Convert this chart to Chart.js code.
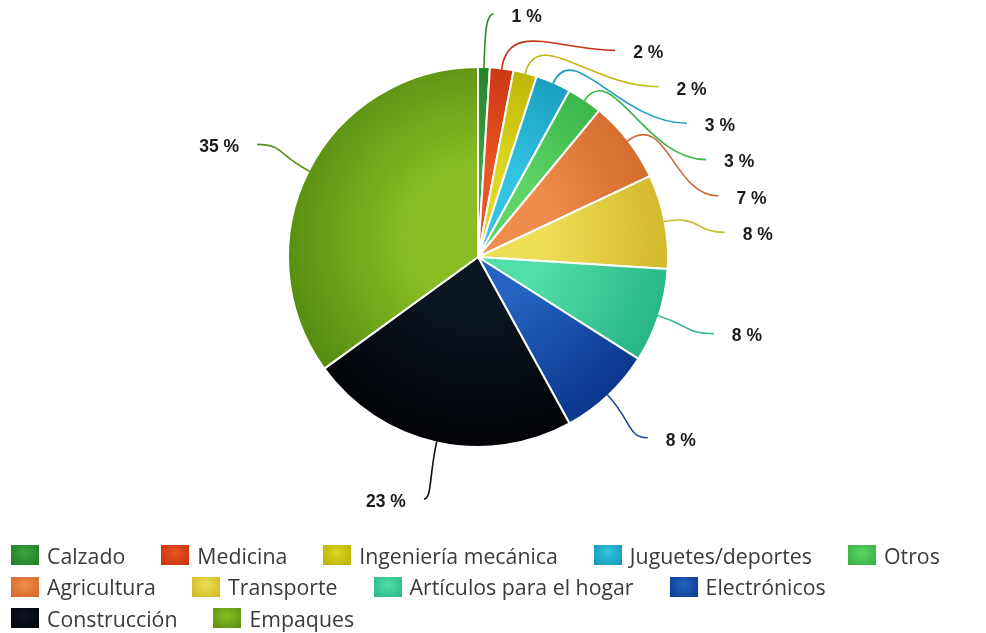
<!DOCTYPE html>
<html>
<head>
<meta charset="utf-8">
<script src="https://cdn.jsdelivr.net/npm/chart.js@4.4.1/dist/chart.umd.min.js"></script>
<style>
html,body{margin:0;padding:0;background:#fff;width:986px;height:633px;overflow:hidden}
#wrap{position:relative;width:986px;height:633px}
#c{position:absolute;left:0;top:0}
#legend{position:absolute;left:11px;top:539.25px;width:975px;display:flex;flex-wrap:wrap;font-family:"Open Sans",sans-serif;font-size:21.3px;color:#3a3a3a}
.item{display:flex;align-items:center;height:31.5px;margin-right:36px;white-space:nowrap}
.box{width:28px;height:20px;margin-right:8px;flex:none}
</style>
</head>
<body>
<div id="wrap">
<canvas id="c" width="986" height="540"></canvas>
<div id="legend"></div>
</div>
<script>
// ---- data ----
const categories = ["Calzado","Medicina","Ingeniería mecánica","Juguetes/deportes","Otros","Agricultura","Transporte","Artículos para el hogar","Electrónicos","Construcción","Empaques"];
const shares = [1, 2, 2, 3, 3, 7, 8, 8, 8, 23, 35];
const shareLabels = ["1 %","2 %","2 %","3 %","3 %","7 %","8 %","8 %","8 %","23 %","35 %"];

// ---- styles ----
const lightColors = ["#3aa43c","#ea5524","#dcd821","#34c4e2","#5cd466","#f08c4c","#eede54","#52dea9","#2463c2","#0b1622","#88be24"];
const darkColors  = ["#1e7c24","#c2300e","#b6ad00","#1394b6","#34ae42","#cf6728","#d0b527","#28b586","#0c388e","#020408","#568c10"];
const lineColors  = ["#2a8a2a","#c8341a","#c0b810","#1a9cc0","#3cb44a","#c86a34","#c8bc30","#36bc90","#1c4a90","#111111","#5a8e18"];

function fillFor(ctx){
  const i = ctx.dataIndex;
  if (i === undefined) return "#888";
  const chart = ctx.chart, a = chart.chartArea;
  if (!a) return lightColors[i];
  const cx = (a.left + a.right) / 2, cy = (a.top + a.bottom) / 2;
  const r = (Math.min(a.width, a.height) - 2) / 2;
  const g = chart.ctx.createRadialGradient(cx, cy - 20, 0, cx, cy - 20, r * 1.05);
  g.addColorStop(0, lightColors[i]);
  g.addColorStop(0.35, lightColors[i]);
  g.addColorStop(1, darkColors[i]);
  return g;
}

const labelPlugin = {
  id: "pieLabels",
  afterDatasetsDraw(chart) {
    const meta = chart.getDatasetMeta(0);
    const arcs = meta.data;
    if (!arcs.length) return;
    const c = chart.ctx;
    const R = arcs[0].outerRadius, cx = arcs[0].x, cy = arcs[0].y;
    const RL = R + 58, gap = 36.4, minY = 14;
    const items = arcs.map((a, i) => {
      const mid = (a.startAngle + a.endAngle) / 2;
      const cos = Math.cos(mid), sin = Math.sin(mid);
      return {i, cos, sin, x: cx + RL * cos, y: cy + RL * sin, right: cos >= 0};
    });
    const right = items.filter(it => it.right).sort((p, q) => p.y - q.y);
    let prev = null;
    right.forEach(it => {
      let y = it.y;
      if (y < minY) { it.x += (minY - y) * 1.6; y = minY; }
      if (prev !== null && y < prev + gap) {
        y = prev + gap;
        const dy = y - cy;
        it.x = cx + Math.sqrt(Math.max(RL * RL - dy * dy, 0));
      }
      it.y = y; prev = y;
    });
    const left = items.filter(it => !it.right).sort((p, q) => p.y - q.y);
    prev = null;
    left.forEach(it => {
      let y = it.y;
      if (prev !== null && y < prev + gap) {
        y = prev + gap;
        const dy = y - cy;
        it.x = cx - Math.sqrt(Math.max(RL * RL - dy * dy, 0));
      }
      it.y = y; prev = y;
    });
    c.save();
    items.forEach(it => {
      const dir = it.right ? 1 : -1;
      const sx = cx + (R - 1) * it.cos, sy = cy + (R - 1) * it.sin;
      const ex = it.x, ey = it.y;
      const dist = Math.hypot(ex - sx, ey - sy);
      const k1 = Math.min(50, 0.6 * dist);
      const k2 = Math.max(8, 0.5 * Math.abs(ex - sx));
      c.beginPath();
      c.moveTo(sx, sy);
      c.bezierCurveTo(sx + it.cos * k1, sy + it.sin * k1, ex - dir * k2, ey, ex, ey);
      c.strokeStyle = lineColors[it.i];
      c.lineWidth = 1.6;
      c.stroke();
      c.font = 'bold 17.5px "Liberation Sans", Arial, sans-serif';
      c.fillStyle = "#1b1b1b";
      c.textBaseline = "middle";
      c.textAlign = it.right ? "left" : "right";
      c.fillText(shareLabels[it.i], ex + dir * 18, ey + 3);
    });
    c.restore();
  }
};

new Chart(document.getElementById("c"), {
  type: "pie",
  data: {
    labels: categories,
    datasets: [{
      data: shares,
      backgroundColor: fillFor,
      borderColor: "#ffffff",
      borderWidth: 2,
      hoverBorderWidth: 2,
      hoverOffset: 0
    }]
  },
  options: {
    responsive: false,
    animation: false,
    events: [],
    layout: {padding: {left: 287, right: 317, top: 66, bottom: 92}},
    plugins: {legend: {display: false}, tooltip: {enabled: false}}
  },
  plugins: [labelPlugin]
});

// ---- legend ----
const legend = document.getElementById("legend");
categories.forEach((name, i) => {
  const item = document.createElement("div");
  item.className = "item";
  const box = document.createElement("span");
  box.className = "box";
  box.style.background = "radial-gradient(ellipse at 50% 40%, " + lightColors[i] + " 0%, " + darkColors[i] + " 100%)";
  const txt = document.createElement("span");
  txt.textContent = name;
  item.appendChild(box);
  item.appendChild(txt);
  legend.appendChild(item);
});
</script>
</body>
</html>
